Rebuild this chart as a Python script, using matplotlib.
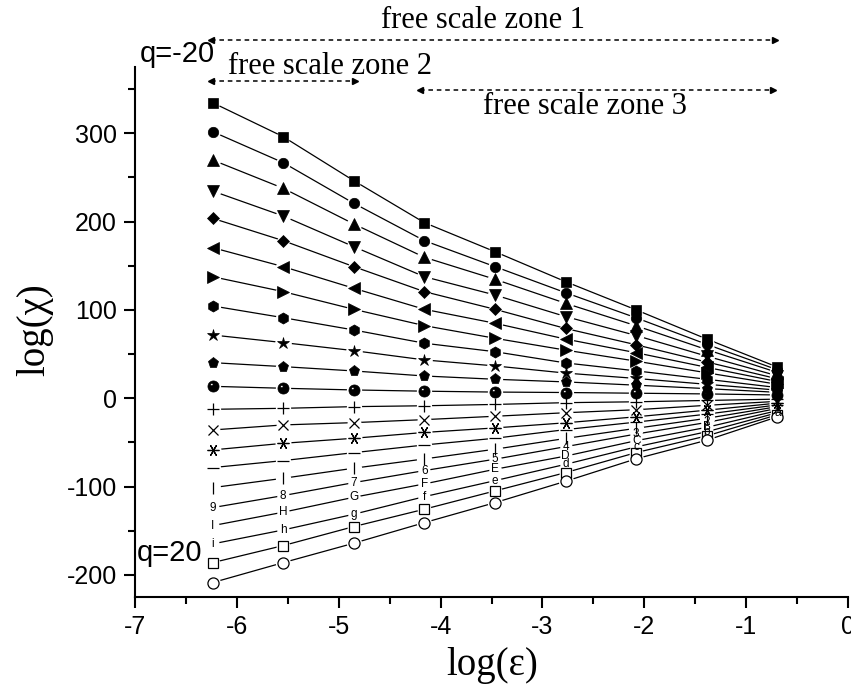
import numpy as np
import matplotlib
matplotlib.use("Agg")
import matplotlib.pyplot as plt
from matplotlib.path import Path
from matplotlib.ticker import MultipleLocator

plt.rcParams['axes.unicode_minus'] = False

# ---- data ----
log_eps = [-6.238, -5.545, -4.852, -4.159, -3.466, -2.773, -2.079, -1.386, -0.693]
q_values = [-20, -18, -16, -14, -12, -10, -8, -6, -4, -2, 0, 2, 4, 6, 8, 10, 12, 14, 16, 18, 20]

chi_qm20 = [334.6, 296.1, 246.3, 198.8, 165.9, 132.0, 100.0, 67.0, 35.3]
chi_qm18 = [301.8, 266.7, 220.7, 178.4, 149.0, 119.5, 91.0, 61.0, 32.2]
chi_qm16 = [269.7, 237.7, 197.3, 159.6, 134.7, 107.5, 82.0, 55.0, 29.2]
chi_qm14 = [234.6, 206.3, 171.6, 137.6, 116.9, 92.5, 71.0, 47.6, 25.4]
chi_qm12 = [203.7, 178.4, 149.0, 120.7, 100.7, 79.0, 60.5, 41.0, 22.0]
chi_qm10 = [170.5, 149.0, 124.5, 100.7, 84.9, 67.0, 51.5, 35.0, 18.9]
chi_qm8 = [137.6, 120.7, 100.7, 82.2, 67.9, 54.5, 42.0, 28.8, 15.8]
chi_qm6 = [104.5, 91.2, 77.3, 62.3, 52.7, 40.0, 31.0, 21.5, 12.1]
chi_qm4 = [71.6, 63.0, 53.9, 43.4, 36.6, 28.5, 22.4, 15.8, 9.2]
chi_qm2 = [40.3, 35.8, 30.9, 25.2, 21.5, 18.5, 14.8, 10.9, 6.7]
chi_q0 = [13.5, 11.3, 9.4, 8.0, 7.0, 6.5, 5.7, 4.9, 3.7]
chi_q2 = [-12.5, -11.4, -9.5, -8.5, -7.0, -5.0, -4.0, -2.5, -1.0]
chi_q4 = [-35.9, -30.2, -27.6, -24.2, -20.4, -16.4, -13.0, -8.0, -3.5]
chi_q6 = [-58.5, -51.0, -45.3, -38.7, -33.6, -27.8, -21.0, -13.5, -5.5]
chi_q8 = [-78.5, -70.6, -61.6, -52.9, -45.3, -35.5, -27.0, -18.0, -7.5]
chi_q10 = [-101.2, -90.6, -79.2, -68.7, -57.7, -45.5, -34.0, -22.7, -9.5]
chi_q12 = [-123.8, -110.2, -95.5, -81.9, -69.0, -54.8, -40.5, -27.4, -11.5]
chi_q14 = [-144.2, -129.0, -112.1, -97.0, -80.4, -65.5, -48.0, -32.9, -14.0]
chi_q16 = [-164.9, -149.1, -131.3, -111.4, -93.3, -74.8, -55.0, -37.9, -16.4]
chi_q18 = [-186.1, -166.8, -145.3, -125.6, -104.9, -84.2, -61.5, -42.6, -18.7]
chi_q20 = [-208.7, -186.1, -164.1, -140.8, -118.2, -94.0, -68.5, -47.5, -21.0]

series = [chi_qm20, chi_qm18, chi_qm16, chi_qm14, chi_qm12, chi_qm10, chi_qm8,
          chi_qm6, chi_qm4, chi_qm2, chi_q0, chi_q2, chi_q4, chi_q6, chi_q8,
          chi_q10, chi_q12, chi_q14, chi_q16, chi_q18, chi_q20]

digit_labels = ['9', '8', '7', '6', '5', '4', '3', '2', '1']
upper_labels = ['I', 'H', 'G', 'F', 'E', 'D', 'C', 'B', 'A']
lower_labels = ['i', 'h', 'g', 'f', 'e', 'd', 'c', 'b', 'a']

x_ticks = [-7, -6, -5, -4, -3, -2, -1, 0]
y_ticks = [-200, -100, 0, 100, 200, 300]

# ---- sphere marker (black ball with highlight) ----
th = np.linspace(0, 2 * np.pi, 64)
outer = np.column_stack([np.cos(th), np.sin(th)])
inner = np.column_stack([-0.3 + 0.22 * np.cos(th[::-1]), 0.35 + 0.22 * np.sin(th[::-1])])
codes = [Path.MOVETO] + [Path.LINETO] * 62 + [Path.CLOSEPOLY]
sphere = Path(np.vstack([outer, inner]), codes + codes)

# style per series: (marker, size, facecolor)
styles = [
    ('s', 6.5, 'k'), ('o', 7.5, 'k'), ('^', 8, 'k'), ('v', 8, 'k'), ('D', 6, 'k'),
    ('<', 8, 'k'), ('>', 8, 'k'), ('h', 8, 'k'), ('*', 9, 'k'), ('p', 8, 'k'),
    (sphere, 8, 'k'), ('+', 8, 'k'), ('x', 7, 'k'), ((6, 2, 90), 8.5, 'k'),
    ('_', 8, 'k'), ('|', 8, 'k'), ('digits', 0, None), ('upper', 0, None),
    ('lower', 0, None), ('s', 7, 'w'), ('o', 8, 'w'),
]

fig = plt.figure(figsize=(8.51, 6.9), dpi=100)
ax = fig.add_axes([135 / 851, 1 - 597 / 690, 713 / 851, 530 / 690])

for vals in series:
    ax.plot(log_eps, vals, color='k', lw=0.9, zorder=2)

for vals, (m, ms, fc) in zip(series, styles):
    clear = ms + 3 if ms else 9
    ax.plot(log_eps, vals, ls='none', marker='o', ms=clear, mfc='w', mec='none', zorder=3)

for vals, (m, ms, fc) in zip(series, styles):
    if m in ('digits', 'upper', 'lower'):
        labs = {'digits': digit_labels, 'upper': upper_labels, 'lower': lower_labels}[m]
        for xv, yv, lab in zip(log_eps, vals, labs):
            ax.text(xv, yv, lab, ha='center', va='center', fontsize=8.5,
                    family='Liberation Sans', zorder=5)
    else:
        ax.plot(log_eps, vals, ls='none', marker=m, ms=ms, mfc=fc, mec='k',
                mew=0.9 if fc == 'w' or m in ('+', 'x', '_', '|') or isinstance(m, tuple) else 0.5,
                zorder=4)

ax.set_xlim(-7, 0)
ax.set_ylim(-225, 375)
ax.set_xticks(x_ticks)
ax.set_yticks(y_ticks)
ax.xaxis.set_minor_locator(MultipleLocator(0.5))
ax.yaxis.set_minor_locator(MultipleLocator(50))
for s in ('top', 'right'):
    ax.spines[s].set_visible(False)
for s in ('left', 'bottom'):
    ax.spines[s].set_linewidth(1.5)
ax.tick_params(which='major', direction='out', length=8, width=1.5, pad=5,
               labelsize=18)
ax.tick_params(which='minor', direction='out', length=5, width=1.5)
for lab in ax.get_xticklabels() + ax.get_yticklabels():
    lab.set_family('Liberation Sans')

# axis labels
fig.text(492 / 851, 1 - 665 / 690, 'log(ε)', ha='center', va='center',
         fontsize=28, family='Liberation Serif')
fig.text(35 / 851, 1 - 330 / 690, 'log(χ)', ha='center', va='center',
         rotation=90, fontsize=28, family='Liberation Serif')

# free scale zones
def zone(x1, x2, y):
    ax.plot([x1, x2], [y, y], ls=(0, (3, 2.5)), color='k', lw=1.1, clip_on=False)
    ax.plot([x1], [y], marker='<', ms=5, color='k', clip_on=False)
    ax.plot([x2], [y], marker='>', ms=5, color='k', clip_on=False)

zone(-6.25, -0.72, 406)
zone(-6.25, -4.84, 359.5)
zone(-4.20, -0.74, 349)

fig.text(483 / 851, 1 - 21 / 690, 'free scale zone 1', ha='center', va='center',
         fontsize=22, family='Liberation Serif')
fig.text(330 / 851, 1 - 66 / 690, 'free scale zone 2', ha='center', va='center',
         fontsize=22, family='Liberation Serif')
fig.text(585 / 851, 1 - 107 / 690, 'free scale zone 3', ha='center', va='center',
         fontsize=22, family='Liberation Serif')

fig.text(177 / 851, 1 - 54 / 690, 'q=-20', ha='center', va='center',
         fontsize=21, family='Liberation Sans')
fig.text(170 / 851, 1 - 553 / 690, 'q=20', ha='center', va='center',
         fontsize=21, family='Liberation Sans')

fig.savefig('out.png', dpi=100)
